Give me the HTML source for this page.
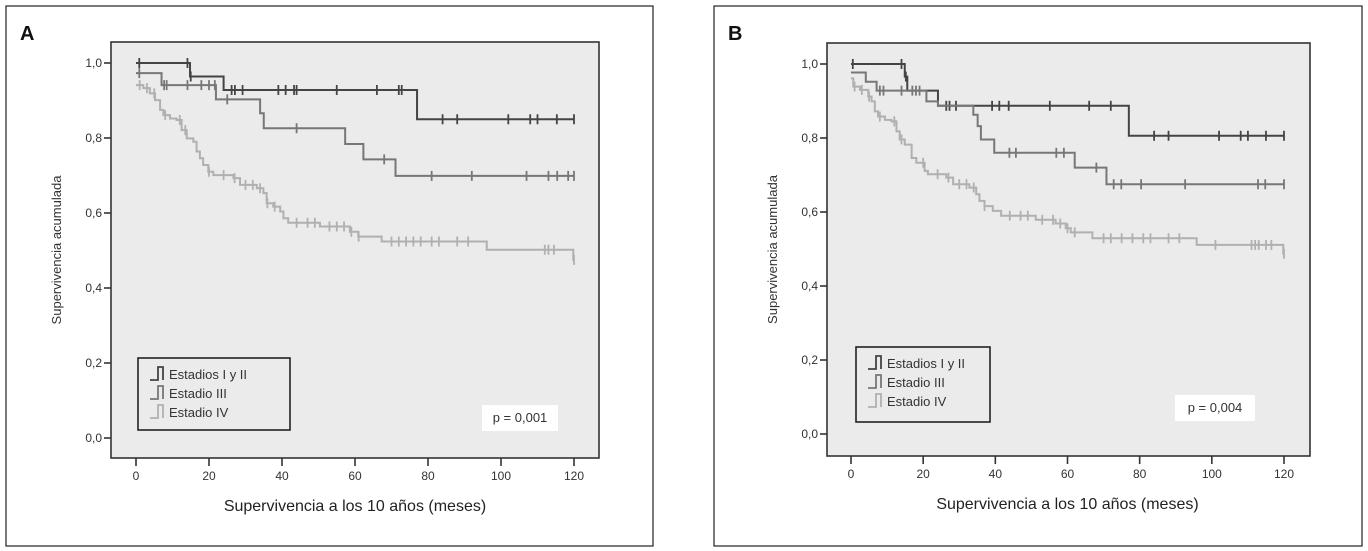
<!DOCTYPE html>
<html><head><meta charset="utf-8"><style>
html,body{margin:0;padding:0;background:#fff;}
svg{display:block;font-family:"Liberation Sans",Arial,sans-serif;}
</style></head><body>
<svg id="fig" width="1368" height="551" viewBox="0 0 1368 551"></svg>
<script>
// ---------- Data: Panel A ----------
const aStage12Times=[0,14.8,24,77];
const aStage12Vals=[1.0,0.964,0.928,0.85];
const aStage12Cens=[0.9,14.1,15,26.2,27.1,29.2,39,41,43.3,44,55,66,72,72.8,84,88,102,108,110,115.3,120];
const aStage3Times=[0,7,21.9,34,35,57.3,62.3,71.1];
const aStage3Vals=[0.973,0.941,0.903,0.866,0.826,0.784,0.743,0.699];
const aStage3Cens=[0.9,7.7,8.4,14.1,17.9,20,21.6,25,44,68,81,92,107,113,115.4,118.4,120];
const aStage4Times=[0,2,3.8,5.2,6.6,7.5,9.3,11.1,12.5,13.9,15.7,16.6,17.5,18.4,19.8,21.2,26.7,28.5,33.1,34.9,35.8,37.6,39.5,40.4,41.7,50.4,58.6,60.9,67.3,96.1,119.8];
const aStage4Vals=[0.941,0.933,0.919,0.901,0.875,0.861,0.852,0.848,0.821,0.799,0.79,0.764,0.746,0.728,0.71,0.701,0.693,0.675,0.666,0.653,0.626,0.617,0.604,0.586,0.574,0.564,0.55,0.537,0.524,0.502,0.475];
const aStage4Cens=[1,3,5,8,12,13.5,20,24,27,30,32,34,36,38,44,47,49,53,55,57,59,61,70,72,74,76,78,81,83,88,91,112,113,114.5,120];
// ---------- Data: Panel B ----------
const bStage12Times=[0,14.9,15.6,24.1,77];
const bStage12Vals=[1.0,0.966,0.928,0.887,0.806];
const bStage12Cens=[0.5,14,15.2,26.4,27.3,29.1,39.1,41.1,43.7,55.1,66,72,84,88,102,108,110,115,120];
const bStage3Times=[0,4.1,7.1,20.9,24.1,33.9,35.1,36,39.7,62,70.8];
const bStage3Vals=[0.977,0.952,0.928,0.899,0.887,0.863,0.832,0.796,0.76,0.72,0.675];
const bStage3Cens=[8,9,14,17,18,19,43.9,45.7,56.9,59,68,72.8,74.9,80.4,92.6,112.8,114.8,120];
const bStage4Times=[0,0.64,2.5,4.8,5.7,6.6,7.5,9.4,11.2,12.6,13.5,14.9,16.8,18.1,20.4,21.3,26.4,28.3,32.8,34.7,35.6,37,39.3,41.6,51.2,56.7,59.5,60.9,66.9,95.8,119.8];
const bStage4Vals=[0.961,0.939,0.93,0.912,0.899,0.872,0.858,0.849,0.845,0.818,0.796,0.782,0.746,0.733,0.711,0.702,0.693,0.675,0.666,0.648,0.63,0.616,0.603,0.59,0.579,0.569,0.556,0.545,0.529,0.511,0.487];
const bStage4Cens=[1,3,5,8,12,14,20,24,27,30,32,34,37,44,47,49,53,56,58,60,62,70,72,75,78,81,83,88,91,101,111,112,113,115,116.5,120];
const xTicks=[0,20,40,60,80,100,120];
const yTicks=[0,0.2,0.4,0.6,0.8,1.0];
const yTickLabels=["0,0","0,2","0,4","0,6","0,8","1,0"];
const legendLabels=["Estadios I y II","Estadio III","Estadio IV"];
const colors=["#444","#777","#b0b0b0"];

const NS="http://www.w3.org/2000/svg";
const svg=document.getElementById('fig');
function mk(tag,attrs,parent){const e=document.createElementNS(NS,tag);for(const k in attrs)e.setAttribute(k,attrs[k]);(parent||svg).appendChild(e);return e;}
function stepVal(times,vals,t){let v=vals[0];for(let i=0;i<times.length;i++){if(times[i]<=t)v=vals[i];}return v;}

function panel(P){
  const g=mk('g',{});
  
  
  const frame=mk('rect',{x:P.ox,y:6,width:P.ow,height:540,fill:'#fff',stroke:'#222','stroke-width':1.2},g);
  
  
  const lab=mk('text',{x:P.ox+14,y:40,'font-size':20,'font-weight':'bold',fill:'#111'},g);
  lab.textContent=P.id;
  
  
  const X=t=>P.x0+t*(P.x120-P.x0)/120;
  const Y=v=>P.y0-v*(P.y0-P.y1);
  const bg=mk('rect',{x:P.L,y:P.T,width:P.R-P.L,height:P.B-P.T,fill:'#ebebeb',stroke:'#333','stroke-width':1.6},g);
  
  
  yTicks.forEach((v,i)=>{
    mk('line',{x1:P.L-7,x2:P.L,y1:Y(v),y2:Y(v),stroke:'#333','stroke-width':1.6},g);
    const t=mk('text',{x:P.L-9,y:Y(v)+4,'font-size':12,'text-anchor':'end',fill:'#333'},g);
    t.textContent=yTickLabels[i];
    
    
  });
  xTicks.forEach(v=>{
    mk('line',{x1:X(v),x2:X(v),y1:P.B,y2:P.B+8,stroke:'#333','stroke-width':1.6},g);
    const t=mk('text',{x:X(v),y:P.B+22,'font-size':12,'text-anchor':'middle',fill:'#333'},g);
    t.textContent=v;
    
    
  });
  const xt=mk('text',{x:X(60),y:P.B+53,'font-size':16,'text-anchor':'middle',fill:'#222'},g);
  xt.textContent='Supervivencia a los 10 años (meses)';
  
  
  const yc=(P.T+P.B)/2;
  const yt=mk('text',{x:0,y:0,'font-size':13,'text-anchor':'middle',fill:'#333',transform:`translate(${P.L-50},${yc}) rotate(-90)`},g);
  yt.textContent='Supervivencia acumulada';
  
  
  P.series.forEach((s,si)=>{
    let d=`M${X(s.t[0])},${Y(s.v[0])}`;
    for(let i=1;i<s.t.length;i++){d+=` H${X(s.t[i])} V${Y(s.v[i])}`;}
    d+=` H${X(120)}`;
    const p=mk('path',{d:d,fill:'none',stroke:colors[si],'stroke-width':2},g);
    
    
    s.c.forEach(ct=>{
      const yy=Y(stepVal(s.t,s.v,ct));
      const m=mk('line',{x1:X(ct),x2:X(ct),y1:yy-5,y2:yy+5,stroke:colors[si],'stroke-width':1.8},g);
      
      
    });
  });
  const lg=mk('g',{},g);
  
  
  mk('rect',{x:P.lx,y:P.ly,width:P.lw,height:P.lh,fill:'#ebebeb',stroke:'#222','stroke-width':1.6},lg);
  legendLabels.forEach((l,i)=>{
    const yy=P.ly+16+i*19;
    mk('path',{d:`M${P.lx+12},${yy+6} H${P.lx+20} V${yy-7} H${P.lx+25} V${yy+6}`,fill:'none',stroke:colors[i],'stroke-width':1.8},lg);
    const t=mk('text',{x:P.lx+31,y:yy+5,'font-size':13,fill:'#333'},lg);
    t.textContent=l;
    
    
  });
  mk('rect',{x:P.px,y:P.py,width:P.pw,height:26,fill:'#fff'},g);
  const pt=mk('text',{x:P.px+P.pw/2,y:P.py+17,'font-size':13,'text-anchor':'middle',fill:'#333'},g);
  pt.textContent=P.p;
  
  
}

panel({id:'A',ox:6,ow:647,L:111,R:599,T:42,B:458,x0:136,x120:574,y0:438,y1:63,
  lx:138,ly:358,lw:152,lh:72,px:482,py:405,pw:76,p:'p = 0,001',
  series:[{t:aStage12Times,v:aStage12Vals,c:aStage12Cens},{t:aStage3Times,v:aStage3Vals,c:aStage3Cens},{t:aStage4Times,v:aStage4Vals,c:aStage4Cens}]});
panel({id:'B',ox:714,ow:648,L:827,R:1310,T:43,B:456,x0:851,x120:1284,y0:434,y1:64,
  lx:856,ly:347,lw:134,lh:75,px:1175,py:395,pw:80,p:'p = 0,004',
  series:[{t:bStage12Times,v:bStage12Vals,c:bStage12Cens},{t:bStage3Times,v:bStage3Vals,c:bStage3Cens},{t:bStage4Times,v:bStage4Vals,c:bStage4Cens}]});
</script>
</body></html>
